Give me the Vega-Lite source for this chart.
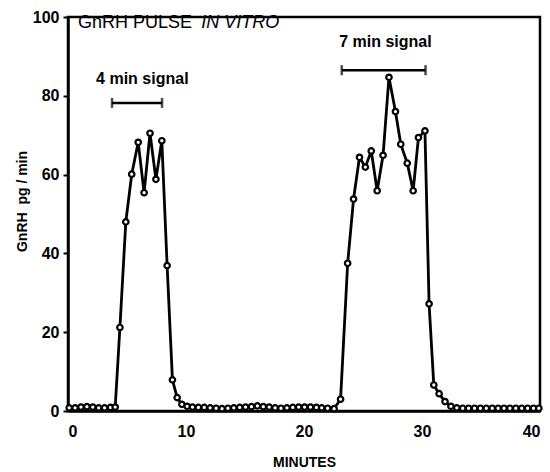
{
  "$schema": "https://vega.github.io/schema/vega-lite/v6.json",
  "width": 472,
  "height": 394,
  "autosize": {"type": "none"},
  "padding": {"left": 68, "top": 17, "right": 10, "bottom": 61},
  "background": "white",
  "config": {
    "view": {"stroke": "black", "strokeWidth": 2.5},
    "font": "Liberation Sans",
    "axis": {
      "domainColor": "black",
      "domainWidth": 2.5,
      "tickColor": "black",
      "tickWidth": 2,
      "labelColor": "black",
      "labelFont": "Liberation Sans",
      "labelFontWeight": "bold",
      "labelFontSize": 16,
      "titleColor": "black",
      "titleFont": "Liberation Sans",
      "titleFontWeight": "bold",
      "titleFontSize": 14,
      "grid": false
    }
  },
  "layer": [
    {
      "data": {
        "values": [
          {"t": 0.1, "v": 0.8}, {"t": 0.6, "v": 0.8}, {"t": 1.1, "v": 1.0}, {"t": 1.6, "v": 1.1},
          {"t": 2.1, "v": 1.0}, {"t": 2.6, "v": 0.8}, {"t": 3.1, "v": 0.8}, {"t": 3.6, "v": 0.9},
          {"t": 4.0, "v": 1.0}, {"t": 4.4, "v": 21.2}, {"t": 4.9, "v": 48.0}, {"t": 5.4, "v": 60.1},
          {"t": 5.95, "v": 68.2}, {"t": 6.45, "v": 55.4}, {"t": 6.95, "v": 70.5}, {"t": 7.45, "v": 58.8},
          {"t": 7.95, "v": 68.6}, {"t": 8.4, "v": 36.9}, {"t": 8.85, "v": 7.9}, {"t": 9.25, "v": 3.4},
          {"t": 9.65, "v": 1.7}, {"t": 10.1, "v": 1.2}, {"t": 10.55, "v": 1.0}, {"t": 11.05, "v": 0.9},
          {"t": 11.55, "v": 0.9}, {"t": 12.05, "v": 0.8}, {"t": 12.55, "v": 0.7}, {"t": 13.05, "v": 0.6},
          {"t": 13.55, "v": 0.7}, {"t": 14.05, "v": 0.8}, {"t": 14.55, "v": 0.9}, {"t": 15.05, "v": 1.0},
          {"t": 15.55, "v": 1.1}, {"t": 16.05, "v": 1.3}, {"t": 16.55, "v": 1.1}, {"t": 17.05, "v": 1.0},
          {"t": 17.55, "v": 0.8}, {"t": 18.05, "v": 0.7}, {"t": 18.55, "v": 0.8}, {"t": 19.05, "v": 0.9},
          {"t": 19.55, "v": 1.0}, {"t": 20.05, "v": 1.0}, {"t": 20.55, "v": 1.0}, {"t": 21.05, "v": 0.9},
          {"t": 21.5, "v": 0.8}, {"t": 22.0, "v": 0.7}, {"t": 22.55, "v": 0.6}, {"t": 23.1, "v": 3.0},
          {"t": 23.7, "v": 37.5}, {"t": 24.2, "v": 53.8}, {"t": 24.7, "v": 64.4}, {"t": 25.2, "v": 61.9},
          {"t": 25.7, "v": 66.0}, {"t": 26.2, "v": 55.9}, {"t": 26.7, "v": 64.9}, {"t": 27.2, "v": 84.7},
          {"t": 27.75, "v": 76.0}, {"t": 28.2, "v": 67.7}, {"t": 28.75, "v": 62.9}, {"t": 29.25, "v": 55.9},
          {"t": 29.7, "v": 69.4}, {"t": 30.25, "v": 71.1}, {"t": 30.6, "v": 27.2}, {"t": 31.0, "v": 6.6},
          {"t": 31.45, "v": 4.4}, {"t": 31.95, "v": 2.4}, {"t": 32.45, "v": 1.2}, {"t": 32.95, "v": 0.8},
          {"t": 33.45, "v": 0.7}, {"t": 33.95, "v": 0.7}, {"t": 34.45, "v": 0.7}, {"t": 34.95, "v": 0.7},
          {"t": 35.45, "v": 0.7}, {"t": 35.95, "v": 0.7}, {"t": 36.45, "v": 0.7}, {"t": 36.95, "v": 0.7},
          {"t": 37.45, "v": 0.7}, {"t": 37.95, "v": 0.7}, {"t": 38.45, "v": 0.7}, {"t": 38.95, "v": 0.7},
          {"t": 39.45, "v": 0.7}, {"t": 39.9, "v": 0.7}
        ]
      },
      "layer": [
        {
          "mark": {"type": "line", "color": "black", "strokeWidth": 2.8},
          "encoding": {
            "x": {
              "field": "t", "type": "quantitative",
              "scale": {"domain": [0, 40], "nice": false, "zero": false},
              "axis": {
                "title": "MINUTES",
                "values": [0, 10, 20, 30, 40],
                "ticks": false,
                "labelPadding": 12,
                "titleY": 51,
                "titleBaseline": "middle"
              }
            },
            "y": {
              "field": "v", "type": "quantitative",
              "scale": {"domain": [0, 100], "nice": false},
              "axis": {
                "title": "GnRH\u00a0\u00a0pg / min",
                "values": [0, 10, 20, 30, 40, 50, 60, 70, 80, 90, 100],
                "labelExpr": "datum.value % 20 == 0 ? datum.label : ''",
                "tickSize": 5,
                "labelPadding": 4,
                "titleX": -46,
                "titleY": 184,
                "titleBaseline": "middle",
                "titleAngle": -90
              }
            }
          }
        },
        {
          "mark": {"type": "point", "shape": "circle", "filled": true, "fill": "white", "stroke": "black", "strokeWidth": 2.2, "size": 30, "opacity": 1},
          "encoding": {
            "x": {"field": "t", "type": "quantitative"},
            "y": {"field": "v", "type": "quantitative"}
          }
        }
      ]
    },
    {
      "data": {
        "values": [
          {"label": "4 min signal", "x1": 3.73, "x2": 7.97, "y": 78.2, "ty": 84.3, "tx": 6.3},
          {"label": "7 min signal", "x1": 23.2, "x2": 30.3, "y": 86.5, "ty": 93.6, "tx": 26.9}
        ]
      },
      "layer": [
        {
          "mark": {"type": "rule", "color": "black", "strokeWidth": 2.5},
          "encoding": {
            "x": {"field": "x1", "type": "quantitative"},
            "x2": {"field": "x2"},
            "y": {"field": "y", "type": "quantitative"}
          }
        },
        {
          "mark": {"type": "tick", "orient": "vertical", "color": "black", "thickness": 2.5, "size": 10},
          "encoding": {
            "x": {"field": "x1", "type": "quantitative"},
            "y": {"field": "y", "type": "quantitative"}
          }
        },
        {
          "mark": {"type": "tick", "orient": "vertical", "color": "black", "thickness": 2.5, "size": 10},
          "encoding": {
            "x": {"field": "x2", "type": "quantitative"},
            "y": {"field": "y", "type": "quantitative"}
          }
        },
        {
          "mark": {"type": "text", "font": "Liberation Sans", "fontWeight": "bold", "fontSize": 16, "color": "black", "align": "center", "baseline": "middle"},
          "encoding": {
            "x": {"field": "tx", "type": "quantitative"},
            "y": {"field": "ty", "type": "quantitative"},
            "text": {"field": "label"}
          }
        }
      ]
    },
    {
      "data": {
        "values": [
          {"text": "GnRH PULSE", "x": 0.85, "y": 98.5}
        ]
      },
      "mark": {"type": "text", "font": "Liberation Sans", "fontSize": 18, "color": "black", "align": "left", "baseline": "middle"},
      "encoding": {
        "x": {"field": "x", "type": "quantitative"},
        "y": {"field": "y", "type": "quantitative"},
        "text": {"field": "text"}
      }
    },
    {
      "data": {
        "values": [
          {"text": "IN VITRO", "x": 11.3, "y": 98.5}
        ]
      },
      "mark": {"type": "text", "font": "Liberation Sans", "fontSize": 18, "fontStyle": "italic", "color": "black", "align": "left", "baseline": "middle"},
      "encoding": {
        "x": {"field": "x", "type": "quantitative"},
        "y": {"field": "y", "type": "quantitative"},
        "text": {"field": "text"}
      }
    }
  ]
}
